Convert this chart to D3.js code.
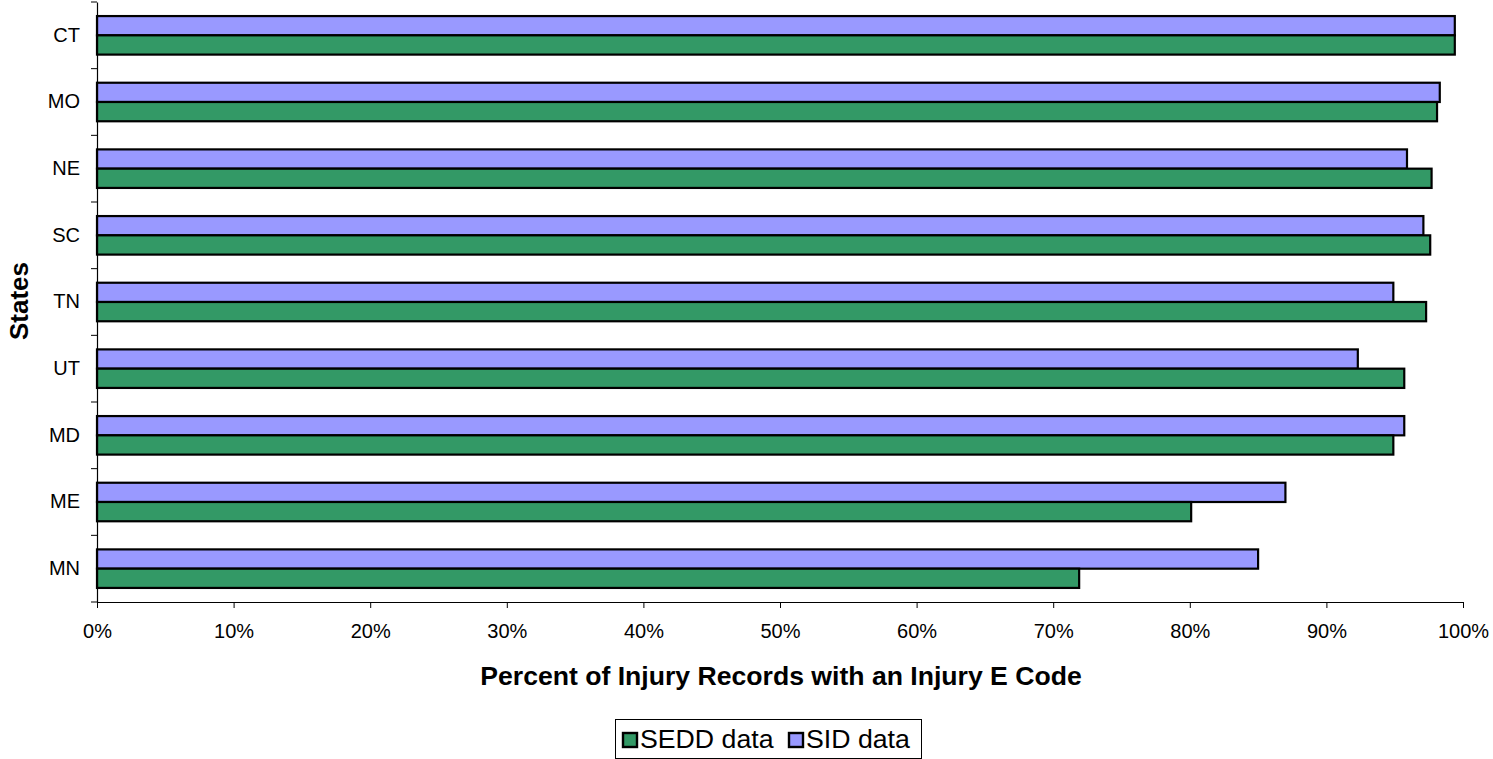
<!DOCTYPE html>
<html><head><meta charset="utf-8">
<script src="https://cdn.jsdelivr.net/npm/d3@7"></script>
<style>body{margin:0;background:#fff;} svg{display:block;font-family:"Liberation Sans",Arial,sans-serif;}</style>
</head><body><svg id="c" width="1493" height="759"></svg>
<script>
const states = ["CT","MO","NE","SC","TN","UT","MD","ME","MN"];
const seddData = [99.4, 98.1, 97.7, 97.6, 97.3, 95.7, 94.9, 80.1, 71.9];
const sidData  = [99.4, 98.3, 95.9, 97.1, 94.9, 92.3, 95.7, 87.0, 85.0];
const xTicks = [0,10,20,30,40,50,60,70,80,90,100];
const seriesNames = ["SEDD data","SID data"];
const colors = {"SEDD data":"#339966","SID data":"#9999FF"};

const svg = d3.select("#c");
const m = {left:97, top:2, right:1463, bottom:602};
const x = d3.scaleLinear().domain([0,100]).range([m.left, m.right]);
const y = d3.scaleBand().domain(states).range([m.top, m.bottom]).paddingInner(0).paddingOuter(0);
const inner = d3.scaleBand().domain(["SID data","SEDD data"]).range([0, y.bandwidth()]).paddingInner(0).paddingOuter(0.73);

const rows = states.map((s,i)=>({state:s, "SEDD data":seddData[i], "SID data":sidData[i]}));
const g = svg.append("g");
rows.forEach(r=>{
  ["SID data","SEDD data"].forEach(k=>{
    g.append("rect")
      .attr("x", x(0))
      .attr("y", y(r.state)+inner(k))
      .attr("width", x(r[k])-x(0))
      .attr("height", inner.bandwidth())
      .attr("fill", colors[k])
      .attr("stroke","#000").attr("stroke-width",2.2);
  });
});

// x axis
const xa = svg.append("g").attr("transform",`translate(0,${m.bottom})`)
  .call(d3.axisBottom(x).tickValues(xTicks).tickFormat(d=>d+"%").tickSize(6).tickSizeOuter(0));
xa.select(".domain").attr("stroke","#000").attr("stroke-width",1.2);
xa.selectAll(".tick line").attr("stroke","#000");
xa.selectAll(".tick text").attr("font-size",20).attr("fill","#000").attr("y",22).attr("dy","0.71em").style("font-family","Liberation Sans, Arial, sans-serif");

// y axis
const ya = svg.append("g").attr("transform",`translate(${m.left},0)`)
  .call(d3.axisLeft(y).tickSize(0).tickPadding(17));
ya.select(".domain").attr("stroke","#000").attr("stroke-width",1.2);
ya.selectAll(".tick text").attr("font-size",20).attr("fill","#000").style("font-family","Liberation Sans, Arial, sans-serif");
// boundary ticks
const bounds = states.map(s=>y(s)).concat([m.bottom]);
svg.append("g").selectAll("line").data(bounds).join("line")
  .attr("x1", m.left-6).attr("x2", m.left).attr("y1",d=>d).attr("y2",d=>d)
  .attr("stroke","#000").attr("stroke-width",1);

// axis titles
svg.append("text").attr("x",781).attr("y",685).attr("text-anchor","middle")
  .attr("font-size",26.6).attr("font-weight","bold").text("Percent of Injury Records with an Injury E Code");
svg.append("text").attr("transform","translate(28,301) rotate(-90)").attr("text-anchor","middle")
  .attr("font-size",26).attr("font-weight","bold").text("States");

// legend
const lg = svg.append("g");
lg.append("rect").attr("x",615.5).attr("y",719.5).attr("width",306).attr("height",39)
  .attr("fill","#fff").attr("stroke","#000").attr("stroke-width",1);
const lx = [622, 788];
seriesNames.forEach((n,i)=>{
  lg.append("rect").attr("x",lx[i]+1).attr("y",733).attr("width",14).attr("height",14)
    .attr("fill",colors[n]).attr("stroke","#000").attr("stroke-width",2.4);
  lg.append("text").attr("x",lx[i]+18).attr("y",748).attr("font-size",26.7).text(n);
});
</script></body></html>
